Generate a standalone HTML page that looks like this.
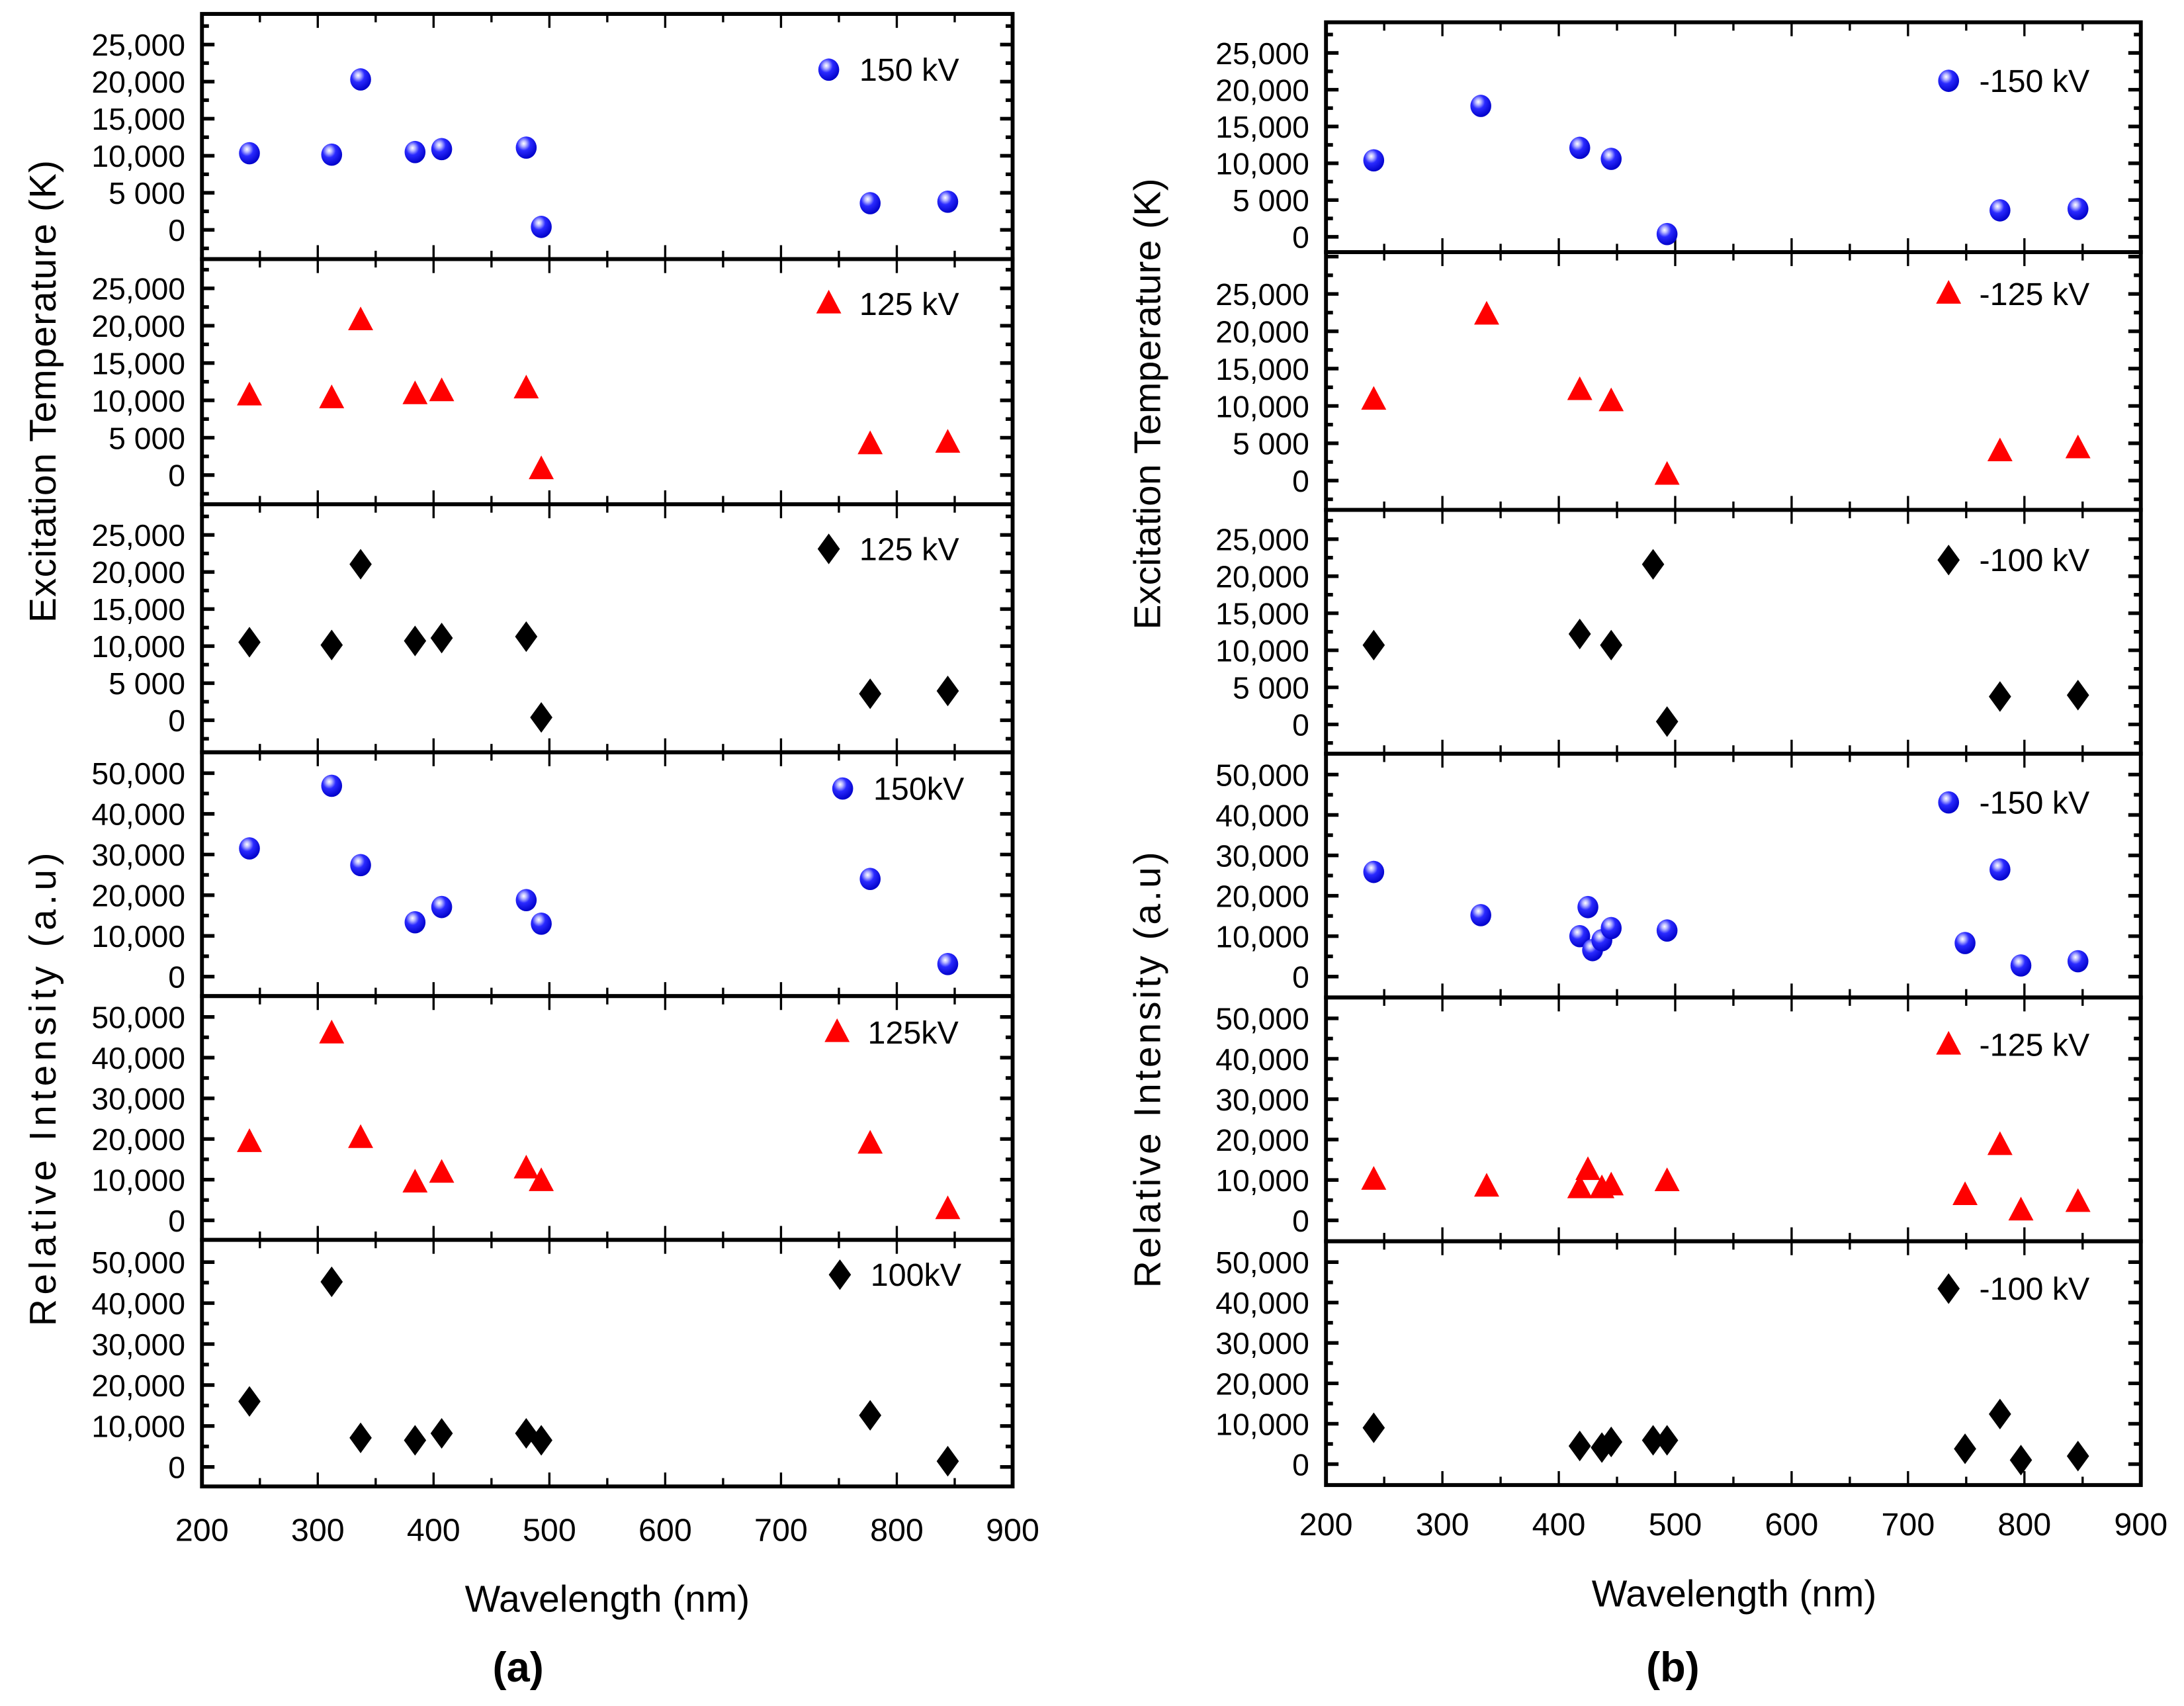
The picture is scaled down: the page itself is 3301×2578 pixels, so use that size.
<!DOCTYPE html>
<html><head><meta charset="utf-8"><style>
html,body{margin:0;padding:0;background:#fff;}
svg{display:block;}
text{font-family:"Liberation Sans",Arial,sans-serif;fill:#000;}
</style></head>
<body>
<svg id="fig" width="3301" height="2578" viewBox="0 0 1568 1224.6" preserveAspectRatio="none" xmlns="http://www.w3.org/2000/svg">
<defs>
<radialGradient id="sph" cx="0.38" cy="0.32" r="0.7">
<stop offset="0" stop-color="#ffffff"/>
<stop offset="0.18" stop-color="#b8b8ff"/>
<stop offset="0.45" stop-color="#2a2aff"/>
<stop offset="1" stop-color="#0000c8"/>
</radialGradient>
</defs>
</svg>
<script>
// ---------- data ----------
const xTicks = [200,300,400,500,600,700,800,900];
const tempTicks = [0,5000,10000,15000,20000,25000];
const tempTickLabels = ["0","5 000","10,000","15,000","20,000","25,000"];
const intTicks = [0,10000,20000,30000,40000,50000];
const intTickLabels = ["0","10,000","20,000","30,000","40,000","50,000"];

const aX = [241,312,337,384,407,480,493,777,844];
const a1Y = [10340,10150,20300,10500,10900,11100,400,3600,3800];
const a2Y = [10630,10260,20700,10800,11200,11570,750,4100,4300];
const a3Y = [10530,10150,21050,10700,11090,11280,380,3570,3950];
const a4Y = [31500,46900,27400,13350,17100,18800,13000,24000,3080];
const a5Y = [19200,45900,20200,9250,11650,12700,9600,18800,2700];
const a6Y = [16000,45200,7100,6500,8200,8200,6500,12600,1400];

const b1X = [241,333,418,445,493,779,846];
const b1Y = [10400,17800,12100,10600,380,3600,3800];
const b2X = [241,338,418,445,493,779,846];
const b2Y = [10800,22200,12100,10600,750,3900,4300];
const b3X = [241,418,445,481,493,779,846];
const b3Y = [10700,12200,10700,21600,380,3760,3950];
const b4X = [241,333,418,425,429,437,445,493,749,779,797,846];
const b4Y = [25900,15200,10000,17200,6550,9000,12000,11400,8300,26500,2750,3800];
const b5X = [241,338,418,425,437,445,493,749,779,797,846];
const b5Y = [10000,8300,7900,12400,7900,8600,9650,6200,18600,2400,4500];
const b6X = [241,418,437,445,481,493,749,779,797,846];
const b6Y = [9000,4500,4100,5500,5900,5900,3800,12400,1000,2000];

// ---------- layout ----------
const NS = "http://www.w3.org/2000/svg";
const svg = document.getElementById("fig");
function mk(tag, attrs, parent){
  const e = document.createElementNS(NS, tag);
  for (const k in attrs) e.setAttribute(k, attrs[k]);
  (parent||svg).appendChild(e);
  return e;
}
const colA = {x0:145, x1:727};
const colB = {x0:952, x1:1537};
function xScale(col){ return v => col.x0 + (v-200)/700*(col.x1-col.x0); }

const panels = [
 {col:colA, top:10,  bot:186, z:165,  t:32,  tv:25000, ticks:tempTicks, labels:tempTickLabels, minor:2500, xs:aX, ys:a1Y, m:"sphere", leg:"150 kV", lx:595, ly:50, name:"a-temp-150kv"},
 {col:colA, top:186, bot:362, z:341,  t:207, tv:25000, ticks:tempTicks, labels:tempTickLabels, minor:2500, xs:aX, ys:a2Y, m:"tri", leg:"125 kV", lx:595, ly:218, name:"a-temp-125kv"},
 {col:colA, top:362, bot:540, z:517,  t:384, tv:25000, ticks:tempTicks, labels:tempTickLabels, minor:2500, xs:aX, ys:a3Y, m:"dia", leg:"125 kV", lx:595, ly:394, name:"a-temp-100kv"},
 {col:colA, top:540, bot:715, z:701,  t:555, tv:50000, ticks:intTicks, labels:intTickLabels, minor:5000, xs:aX, ys:a4Y, m:"sphere", leg:"150kV", lx:605, ly:566, name:"a-int-150kv"},
 {col:colA, top:715, bot:890, z:876,  t:730, tv:50000, ticks:intTicks, labels:intTickLabels, minor:5000, xs:aX, ys:a5Y, m:"tri", leg:"125kV", lx:601, ly:741, name:"a-int-125kv"},
 {col:colA, top:890, bot:1067,z:1053, t:906, tv:50000, ticks:intTicks, labels:intTickLabels, minor:5000, xs:aX, ys:a6Y, m:"dia", leg:"100kV", lx:603, ly:915, name:"a-int-100kv"},
 {col:colB, top:16,  bot:181, z:170,  t:38,  tv:25000, ticks:tempTicks, labels:tempTickLabels, minor:2500, xs:b1X, ys:b1Y, m:"sphere", leg:"-150 kV", lx:1399, ly:58, name:"b-temp-150kv"},
 {col:colB, top:181, bot:366, z:345,  t:211, tv:25000, ticks:tempTicks, labels:tempTickLabels, minor:2500, xs:b2X, ys:b2Y, m:"tri", leg:"-125 kV", lx:1399, ly:211, name:"b-temp-125kv"},
 {col:colB, top:366, bot:541, z:520,  t:387, tv:25000, ticks:tempTicks, labels:tempTickLabels, minor:2500, xs:b3X, ys:b3Y, m:"dia", leg:"-100 kV", lx:1399, ly:402, name:"b-temp-100kv"},
 {col:colB, top:541, bot:716, z:701,  t:556, tv:50000, ticks:intTicks, labels:intTickLabels, minor:5000, xs:b4X, ys:b4Y, m:"sphere", leg:"-150 kV", lx:1399, ly:576, name:"b-int-150kv"},
 {col:colB, top:716, bot:891, z:876,  t:731, tv:50000, ticks:intTicks, labels:intTickLabels, minor:5000, xs:b5X, ys:b5Y, m:"tri", leg:"-125 kV", lx:1399, ly:750, name:"b-int-125kv"},
 {col:colB, top:891, bot:1066,z:1051, t:906, tv:50000, ticks:intTicks, labels:intTickLabels, minor:5000, xs:b6X, ys:b6Y, m:"dia", leg:"-100 kV", lx:1399, ly:925, name:"b-int-100kv"}
];

function marker(type, cx, cy, g){
  let e;
  if (type==="sphere") e = mk("ellipse",{cx:cx,cy:cy,rx:7.5,ry:8,fill:"url(#sph)"},g);
  else if (type==="tri") e = mk("polygon",{points:`${cx},${cy-10} ${cx+9},${cy+7} ${cx-9},${cy+7}`,fill:"#ff0000"},g);
  else e = mk("polygon",{points:`${cx},${cy-11} ${cx+8},${cy} ${cx},${cy+11} ${cx-8},${cy}`,fill:"#000"},g);
  return e;
}

panels.forEach(p=>{
  const X = xScale(p.col);
  const Y = v => p.z - v/p.tv*(p.z-p.t);
  const g = mk("g",{});
  
  
  for (let v=200; v<=900; v+=50){
    const x = X(v), len = (v%100===0)?10:6;
    if (v>200 && v<900){
      mk("line",{x1:x,y1:p.bot,x2:x,y2:p.bot-len,stroke:"#000","stroke-width":1.6},g);
      mk("line",{x1:x,y1:p.top,x2:x,y2:p.top+len,stroke:"#000","stroke-width":1.6},g);
    }
  }
  for (let v=-p.minor; v<=p.tv*1.2; v+=p.minor){
    const y = Y(v);
    if (y<p.top+2 || y>p.bot-2) continue;
    const major = (Math.round(v/p.minor)%2===0);
    const len = major?9:5;
    mk("line",{x1:p.col.x0,y1:y,x2:p.col.x0+len,y2:y,stroke:"#000","stroke-width":2.6},g);
    mk("line",{x1:p.col.x1,y1:y,x2:p.col.x1-len,y2:y,stroke:"#000","stroke-width":2.6},g);
  }
  p.ticks.forEach((v,i)=>{
    const t = mk("text",{x:p.col.x0-12,y:Y(v)+8,"text-anchor":"end","font-size":22},g);
    
    
    t.textContent = p.labels[i];
  });
  const fr = mk("rect",{x:p.col.x0,y:p.top,width:p.col.x1-p.col.x0,height:p.bot-p.top,fill:"none",stroke:"#000","stroke-width":2.8},g);
  
  
  p.xs.forEach((xv,i)=>{
    const m = marker(p.m, X(xv), Y(p.ys[i]), g);
    
    
  });
  const lm = marker(p.m, p.lx, p.ly, g);
  
  
  const lt = mk("text",{x:p.lx+22,y:p.ly+8,"font-size":23},g);
  
  
  lt.textContent = p.leg;
});

[[colA,1106],[colB,1102]].forEach(([col,yb])=>{
  const X = xScale(col);
  xTicks.forEach(v=>{
    const t = mk("text",{x:X(v),y:yb,"text-anchor":"middle","font-size":23});
    
    
    t.textContent = v;
  });
});

function title(txt, x, y, rot, size, name, extra){
  const attrs = {x:x,y:y,"text-anchor":"middle","font-size":size};
  if (rot) attrs.transform = `rotate(-90 ${x} ${y})`;
  Object.assign(attrs, extra||{});
  const t = mk("text",attrs);
  
  
  t.textContent = txt;
}
const tl = (n)=>({textLength:n, lengthAdjust:"spacing"});
title("Excitation Temperature (K)", 40, 281, true, 27, "y-axis-title-temperature-a", tl(332));
title("Relative Intensity (a.u)", 40, 782, true, 27, "y-axis-title-intensity-a", tl(340));
title("Excitation Temperature (K)", 833, 290, true, 27, "y-axis-title-temperature-b", tl(324));
title("Relative Intensity (a.u)", 833, 768, true, 27, "y-axis-title-intensity-b", tl(313));
title("Wavelength (nm)", 436, 1157, false, 27, "x-axis-title-a");
title("Wavelength (nm)", 1245, 1153, false, 27, "x-axis-title-b");
title("(a)", 372, 1207, false, 30, "panel-label-a", {"font-family":"Liberation Serif, serif","font-weight":"bold"});
title("(b)", 1201, 1207, false, 30, "panel-label-b", {"font-family":"Liberation Serif, serif","font-weight":"bold"});
</script>
</body></html>
